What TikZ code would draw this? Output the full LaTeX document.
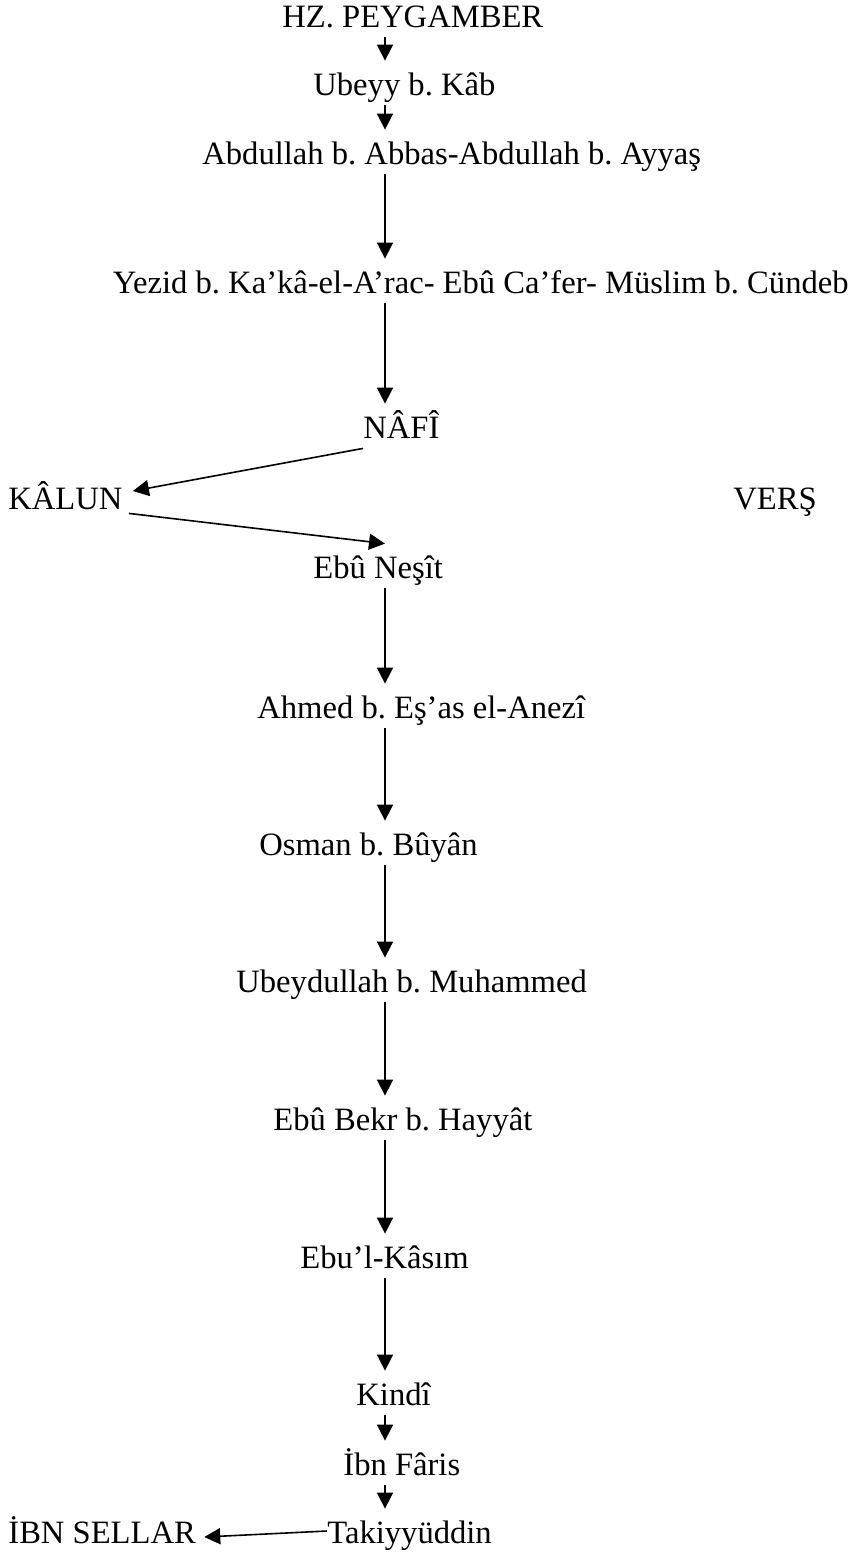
\documentclass[tikz,border=0pt]{standalone}
\usepackage{fontspec}
\setmainfont{Liberation Serif}
\usetikzlibrary{arrows.meta}
\frenchspacing
\tikzset{
  ravi/.style={anchor=base west, inner sep=0pt, text height=17pt, text depth=5pt,
    font=\fontsize{16.3}{19}\selectfont},
  arr/.style={-{Triangle[length=8pt,width=8pt]}, line width=0.8pt},
}
\begin{document}
\begin{tikzpicture}[x=0.5pt,y=-0.5pt]
	\useasboundingbox (0,0) rectangle (854,1555);
	\coordinate (spine) at (385,0);
	\node[ravi] (peygamber) at (282,27) {HZ. PEYGAMBER};
	\node[ravi] (ubeyy) at (313,95) {Ubeyy b. Kâb};
	\node[ravi] (abdullah) at (202,164) {Abdullah b. Abbas-Abdullah b. Ayyaş};
	\node[ravi,anchor=base east] (yezid) at (849,293) {Yezid b. Ka’kâ-el-A’rac- Ebû Ca’fer- Müslim b. Cündeb};
	\node[ravi] (nafi) at (363,438) {NÂFÎ};
	\node[ravi] (kalun) at (8,509) {KÂLUN};
	\node[ravi] (vers) at (733,509) {VERŞ};
	\node[ravi] (nesit) at (313,578) {Ebû Neşît};
	\node[ravi] (ahmed) at (257,718) {Ahmed b. Eş’as el-Anezî};
	\node[ravi] (osman) at (259,855) {Osman b. Bûyân};
	\node[ravi] (ubeydullah) at (236,992) {Ubeydullah b. Muhammed};
	\node[ravi] (ebubekr) at (273,1130) {Ebû Bekr b. Hayyât};
	\node[ravi] (kasim) at (300,1268) {Ebu’l-Kâsım};
	\node[ravi] (kindi) at (356,1405) {Kindî};
	\node[ravi] (faris) at (343,1475) {İbn Fâris};
	\node[ravi] (takiyyuddin) at (327,1543) {Takiyyüddin};
	\node[ravi] (sellar) at (8,1543) {İBN SELLAR};
	\draw[arr] (peygamber.south -| spine) -- (ubeyy.north -| spine);
	\draw[arr] (ubeyy.south -| spine) -- (abdullah.north -| spine);
	\draw[arr] (abdullah.south -| spine) -- (yezid.north -| spine);
	\draw[arr] (yezid.south -| spine) -- (nafi.north -| spine);
	\draw[arr] (nafi.south west) -- ([xshift=5pt,yshift=3pt]kalun.east);
	\draw[arr] ([xshift=3pt,yshift=3pt]kalun.south east) -- (nesit.north -| spine);
	\draw[arr] (nesit.south -| spine) -- (ahmed.north -| spine);
	\draw[arr] (ahmed.south -| spine) -- (osman.north -| spine);
	\draw[arr] (osman.south -| spine) -- (ubeydullah.north -| spine);
	\draw[arr] (ubeydullah.south -| spine) -- (ebubekr.north -| spine);
	\draw[arr] (ebubekr.south -| spine) -- (kasim.north -| spine);
	\draw[arr] (kasim.south -| spine) -- (kindi.north -| spine);
	\draw[arr] (kindi.south -| spine) -- (faris.north -| spine);
	\draw[arr] (faris.south -| spine) -- (takiyyuddin.north -| spine);
	\draw[arr] (takiyyuddin.west) -- ([xshift=4pt,yshift=-3pt]sellar.east);
\end{tikzpicture}
\end{document}
